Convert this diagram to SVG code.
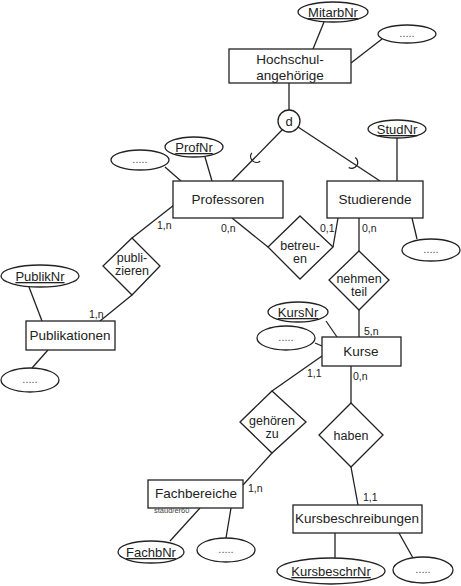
<svg xmlns="http://www.w3.org/2000/svg" width="461" height="586" viewBox="0 0 461 586">
<style>
.e{fill:#fff;stroke:#222;stroke-width:1.3}
.a{fill:#fff;stroke:#222;stroke-width:1.3}
.r{fill:#fff;stroke:#222;stroke-width:1.3}
.l{stroke:#222;stroke-width:1.3;fill:none}
text{font-family:"Liberation Sans",Arial,sans-serif;fill:#222;text-anchor:middle}
.et{font-size:13.5px}
.rt{font-size:12.5px}
.at{font-size:13px;text-decoration:underline}
.dt{font-size:11px;fill:#555}
.c{font-size:10.5px;text-anchor:start}
</style>
<rect width="461" height="586" fill="#fff"/>
<g id="connectors">
<line class="l" x1="324" y1="22" x2="313" y2="49"/>
<line class="l" x1="382" y1="39" x2="351" y2="63"/>
<line class="l" x1="289" y1="83" x2="289" y2="110"/>
<line class="l" x1="282" y1="130" x2="232" y2="181"/>
<line class="l" x1="298" y1="127" x2="380" y2="181"/>
<path class="l" d="M251.8 152.8 A6 6 0 0 0 260.2 161.2"/>
<path class="l" d="M355.3 157.5 A6 6 0 0 1 348.7 167.5"/>
<line class="l" x1="205" y1="157" x2="212" y2="181"/>
<line class="l" x1="165" y1="167" x2="181" y2="181"/>
<line class="l" x1="397" y1="138" x2="397" y2="181"/>
<line class="l" x1="412" y1="218" x2="417" y2="239"/>
<line class="l" x1="232" y1="218" x2="268" y2="247"/>
<line class="l" x1="338" y1="218" x2="333" y2="247"/>
<line class="l" x1="359" y1="218" x2="359" y2="251"/>
<line class="l" x1="359" y1="310" x2="359" y2="337"/>
<line class="l" x1="174" y1="205" x2="132" y2="238"/>
<line class="l" x1="132" y1="295" x2="100" y2="321"/>
<line class="l" x1="29" y1="287" x2="42" y2="321"/>
<line class="l" x1="48" y1="350" x2="32" y2="368"/>
<line class="l" x1="326" y1="321" x2="337" y2="337"/>
<line class="l" x1="315" y1="343" x2="322" y2="346"/>
<line class="l" x1="322" y1="356" x2="272" y2="391"/>
<line class="l" x1="351" y1="366" x2="351" y2="403"/>
<line class="l" x1="272" y1="453" x2="243" y2="485"/>
<line class="l" x1="351" y1="467" x2="358" y2="505"/>
<line class="l" x1="200" y1="508" x2="170" y2="541"/>
<line class="l" x1="231" y1="508" x2="226" y2="538"/>
<line class="l" x1="335" y1="533" x2="335" y2="558"/>
<line class="l" x1="399" y1="533" x2="413" y2="558"/>
<text class="c" x="157" y="229">1,n</text>
<text class="c" x="221" y="232">0,n</text>
<text class="c" x="320" y="232">0,1</text>
<text class="c" x="362" y="232">0,n</text>
<text class="c" x="89" y="318">1,n</text>
<text class="c" x="364" y="335">5,n</text>
<text class="c" x="307" y="377">1,1</text>
<text class="c" x="353" y="380">0,n</text>
<text class="c" x="248" y="492">1,n</text>
<text class="c" x="363" y="501">1,1</text>
</g>
<g id="hochschulangehoerige">
<rect class="e" x="229" y="49" width="122" height="34"/>
<text style="font-size:13.5px" x="290" y="64">Hochschul-</text>
<text style="font-size:13.5px" x="290" y="79.5">angehörige</text>
</g>
<g id="mitarbnr"><ellipse class="a" cx="333" cy="12" rx="35" ry="10"/><text class="at" x="333" y="17">MitarbNr</text></g>
<g id="hs-more"><ellipse class="a" cx="407" cy="34" rx="29" ry="9"/><text class="dt" x="407" y="37">.....</text></g>
<g id="d"><circle class="a" cx="289" cy="121" r="11"/><text style="font-size:13px" x="289" y="126">d</text></g>
<g id="professoren"><rect class="e" x="173" y="181" width="110" height="37"/><text class="et" x="228" y="204">Professoren</text></g>
<g id="profnr"><ellipse class="a" cx="194" cy="147" rx="29" ry="10"/><text class="at" x="194" y="152">ProfNr</text></g>
<g id="prof-more"><ellipse class="a" cx="140" cy="160" rx="29" ry="10"/><text class="dt" x="140" y="163">.....</text></g>
<g id="studierende"><rect class="e" x="327" y="181" width="96" height="37"/><text class="et" x="375" y="204">Studierende</text></g>
<g id="studnr"><ellipse class="a" cx="397" cy="129" rx="29" ry="9"/><text class="at" x="397" y="134">StudNr</text></g>
<g id="stud-more"><ellipse class="a" cx="431" cy="250" rx="29" ry="11"/><text class="dt" x="431" y="253">.....</text></g>
<g id="betreuen"><polygon class="r" points="300,216 333,247 300,279 268,247"/><text class="rt" x="300" y="249.5">betreu-</text><text class="rt" x="300" y="262.5">en</text></g>
<g id="nehmenteil"><polygon class="r" points="359,251 389,280 359,310 329,280"/><text class="rt" x="359" y="282.5">nehmen</text><text class="rt" x="359" y="295.5">teil</text></g>
<g id="publizieren"><polygon class="r" points="132,238 160,266 132,295 103,266"/><text class="rt" x="132" y="261.5">publi-</text><text class="rt" x="132" y="274.5">zieren</text></g>
<g id="publikationen"><rect class="e" x="26" y="321" width="89" height="29"/><text class="et" x="70" y="340">Publikationen</text></g>
<g id="publiknr"><ellipse class="a" cx="40" cy="276" rx="39" ry="11"/><text class="at" x="40" y="281">PublikNr</text></g>
<g id="publ-more"><ellipse class="a" cx="30" cy="380" rx="29" ry="12"/><text class="dt" x="30" y="383">.....</text></g>
<g id="kurse"><rect class="e" x="322" y="337" width="79" height="29"/><text class="et" x="361" y="356">Kurse</text></g>
<g id="kursnr"><ellipse class="a" cx="298" cy="312" rx="30" ry="10"/><text class="at" x="298" y="317">KursNr</text></g>
<g id="kurs-more"><ellipse class="a" cx="286" cy="338" rx="29" ry="12"/><text class="dt" x="286" y="341">.....</text></g>
<g id="gehoerenzu"><polygon class="r" points="272,391 306,422 272,453 240,422"/><text class="rt" x="272" y="424.5">gehören</text><text class="rt" x="272" y="437.5">zu</text></g>
<g id="haben"><polygon class="r" points="351,403 383,435 351,467 319,435"/><text class="rt" x="351" y="440">haben</text></g>
<g id="fachbereiche"><rect class="e" x="148" y="480" width="95" height="28"/><text class="et" x="196" y="498">Fachbereiche</text><text x="154" y="512.5" style="font-size:7.5px;fill:#444;text-anchor:start">staud/er60</text></g>
<g id="fachbnr"><ellipse class="a" cx="151" cy="552" rx="33" ry="11"/><text class="at" x="151" y="557">FachbNr</text></g>
<g id="fb-more"><ellipse class="a" cx="226" cy="550" rx="29" ry="12"/><text class="dt" x="226" y="553">.....</text></g>
<g id="kursbeschreibungen"><rect class="e" x="293" y="505" width="129" height="28"/><text class="et" x="357" y="523">Kursbeschreibungen</text></g>
<g id="kursbeschrnr"><ellipse class="a" cx="331" cy="571" rx="54" ry="13"/><text class="at" x="331" y="576">KursbeschrNr</text></g>
<g id="kb-more"><ellipse class="a" cx="423" cy="570" rx="30" ry="13"/><text class="dt" x="423" y="573">.....</text></g>
</svg>
